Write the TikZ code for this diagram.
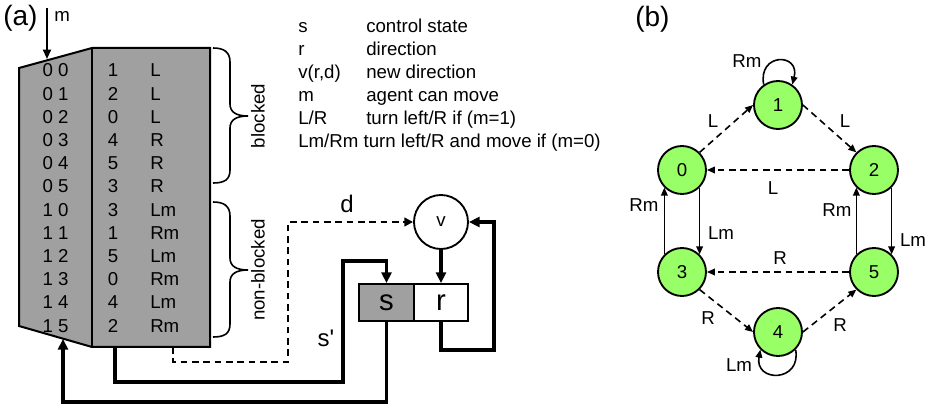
\documentclass[tikz,border=0pt]{standalone}
\usepackage{fontspec}
\setmainfont{Liberation Sans}
\usetikzlibrary{arrows.meta}
\definecolor{tabgray}{RGB}{160,160,160}
\definecolor{stgreen}{RGB}{153,255,102}
\tikzset{
  txt/.style={font=\fontsize{14}{16}\selectfont, inner sep=0pt},
  bigtxt/.style={font=\fontsize{21}{24}\selectfont, inner sep=0pt},
  midtxt/.style={font=\fontsize{18}{20}\selectfont, inner sep=0pt},
  boxtxt/.style={font=\fontsize{22}{24}\selectfont},
  thk/.style={line width=2.6pt, -{Triangle[length=8pt,width=7.5pt]}},
  dsh/.style={line width=1.7pt, dash pattern=on 5pt off 3.5pt, -{Triangle[length=6.5pt,width=6.5pt]}},
  thinarr/.style={line width=1.3pt, -{Triangle[length=7pt,width=6pt]}},
  regbox/.style={draw, line width=1.4pt, minimum width=41.25pt, minimum height=27.75pt, inner sep=0pt, boxtxt},
  st/.style={circle, draw, line width=1.4pt, fill=stgreen, minimum size=36pt, inner sep=0pt, txt},
  gd/.style={line width=1.2pt, dash pattern=on 5pt off 3.5pt, -{Triangle[length=6pt,width=5pt]}},
  gs/.style={line width=1.2pt, -{Triangle[length=6pt,width=5pt]}},
  lbl/.style={txt}
}
\begin{document}
\begin{tikzpicture}[x=0.75pt,y=-0.75pt]
\useasboundingbox (0,0) rectangle (933,406);

% ---------- (a) ----------
\node[bigtxt, anchor=base west] (alabel) at (3,26) {(a)};
\node[txt, anchor=base west] (mlabel) at (54,22) {m};

% table
\coordinate (tl) at (19,68);
\coordinate (tm) at (92,48);
\coordinate (tr) at (210,48);
\coordinate (br) at (210,347);
\coordinate (bm) at (92,347);
\coordinate (bl) at (19,326);
\filldraw[fill=tabgray, line width=1.5pt, line join=miter] (tl) -- (tm) -- (tr) -- (br) -- (bm) -- (bl) -- cycle;
\draw[line width=1.5pt] (tm) -- (bm);

\foreach \a/\b/\c [count=\i from 0] in {0 0/1/L, 0 1/2/L, 0 2/0/L, 0 3/4/R, 0 4/5/R, 0 5/3/R, 1 0/3/Lm, 1 1/1/Rm, 1 2/5/Lm, 1 3/0/Rm, 1 4/4/Lm, 1 5/2/Rm}{
  \node[txt, anchor=base] (in\i) at (55.5, 77+23.2*\i) {\a};
  \node[txt, anchor=base] (ns\i) at (113, 77+23.2*\i) {\b};
  \node[txt, anchor=base west] (act\i) at (150, 77+23.2*\i) {\c};
}

% m arrow
\coordinate (mtop) at (47,8);
\coordinate (min) at (47,59);
\draw[thinarr] (mtop) -- (min);

% braces
\draw[line width=1.2pt] (213,48) .. controls (224,48) and (230,52) .. (230,62) -- (230,104)
  .. controls (230,112) and (236,116) .. (248,116)
  .. controls (236,116) and (230,120) .. (230,128) -- (230,170)
  .. controls (230,180) and (224,183) .. (213,183);
\node[txt, rotate=90] (blk) at (258,116) {blocked};
\draw[line width=1.2pt] (213,202) .. controls (224,202) and (230,206) .. (230,216) -- (230,258)
  .. controls (230,266) and (236,270) .. (248,270)
  .. controls (236,270) and (230,274) .. (230,282) -- (230,324)
  .. controls (230,334) and (224,337) .. (213,337);
\node[txt, rotate=90] (nblk) at (258,270) {non-blocked};

% legend
\node[txt, anchor=base west] (k1) at (298,33) {s};
\node[txt, anchor=base west] (d1) at (366,33) {control state};
\node[txt, anchor=base west] (k2) at (298,56) {r};
\node[txt, anchor=base west] (d2) at (366,56) {direction};
\node[txt, anchor=base west] (k3) at (298,79) {v(r,d)};
\node[txt, anchor=base west] (d3) at (366,79) {new direction};
\node[txt, anchor=base west] (k4) at (298,102) {m};
\node[txt, anchor=base west] (d4) at (366,102) {agent can move};
\node[txt, anchor=base west] (k5) at (298,125) {L/R};
\node[txt, anchor=base west] (d5) at (366,125) {turn left/R if (m=1)};
\node[txt, anchor=base west] (k6) at (298,148) {Lm/Rm turn left/R and move if (m=0)};

% registers and v
\node[regbox, fill=tabgray] (sbox) at (386.5,302.5) {s};
\node[regbox, fill=white, minimum width=40.5pt] (rbox) at (441,302.5) {r};
\node[circle, draw, line width=1.4pt, minimum size=40.5pt, inner sep=0pt, txt, fill=white] (v) at (441,222) {v};

\node[midtxt, anchor=base] (dlabel) at (347,213) {d};
\node[midtxt, anchor=base] (splabel) at (326,347) {s\textquotesingle};

% connectors
\coordinate (sout) at (115,347);
\coordinate (dout) at (173,347);
\coordinate (tabin) at (63,339);
\draw[dsh] (dout) |- (288,362) |- (v.west);
\draw[thk] (sout) |- (343,382) -- (343,261) -| (sbox.north);
\draw[thk] (sbox.south) |- (63,402) -- (tabin);
\draw[thk] (v.south) -- (rbox.north);
\draw[thk] (rbox.south) |- (494,350) |- (v.east);

% ---------- (b) ----------
\node[bigtxt, anchor=base west] (blabel) at (635,27) {(b)};
\node[st] (n1) at (778,105) {1};
\node[st] (n0) at (682,170) {0};
\node[st] (n2) at (874,170) {2};
\node[st] (n3) at (682,272) {3};
\node[st] (n5) at (874,272) {5};
\node[st] (n4) at (778,332) {4};

\draw[gd] (n0.45) -- (n1.180);
\draw[gd] (n1.0) -- (n2.135);
\draw[gd] (n2.west) -- (n0.east);
\draw[gs] (n0.-45) -- (n3.45);
\draw[gs] (n3.135) -- (n0.-135);
\draw[gs] (n2.-45) -- (n5.45);
\draw[gs] (n5.135) -- (n2.-135);
\draw[gd] (n5.west) -- (n3.east);
\draw[gd] (n3.-45) -- (n4.180);
\draw[gd] (n4.0) -- (n5.-135);
\draw[gs] (n1.125) .. controls +(-6,-32) and +(8,-32) .. (n1.55);
\draw[gs] (n4.-45) .. controls +(6,33) and +(-6,33) .. (n4.-135);

\node[lbl] (l11) at (747,61) {Rm};
\node[lbl] (l01) at (713,121) {L};
\node[lbl] (l12) at (845,121) {L};
\node[lbl] (l20) at (773,188) {L};
\node[lbl] (l30) at (644,205) {Rm};
\node[lbl] (l52) at (837,210) {Rm};
\node[lbl] (l03) at (721,233) {Lm};
\node[lbl] (l25) at (913,240) {Lm};
\node[lbl] (l53) at (780,258) {R};
\node[lbl] (l34) at (708,318) {R};
\node[lbl] (l45) at (840,325) {R};
\node[lbl] (l44) at (739,365) {Lm};
\end{tikzpicture}
\end{document}
